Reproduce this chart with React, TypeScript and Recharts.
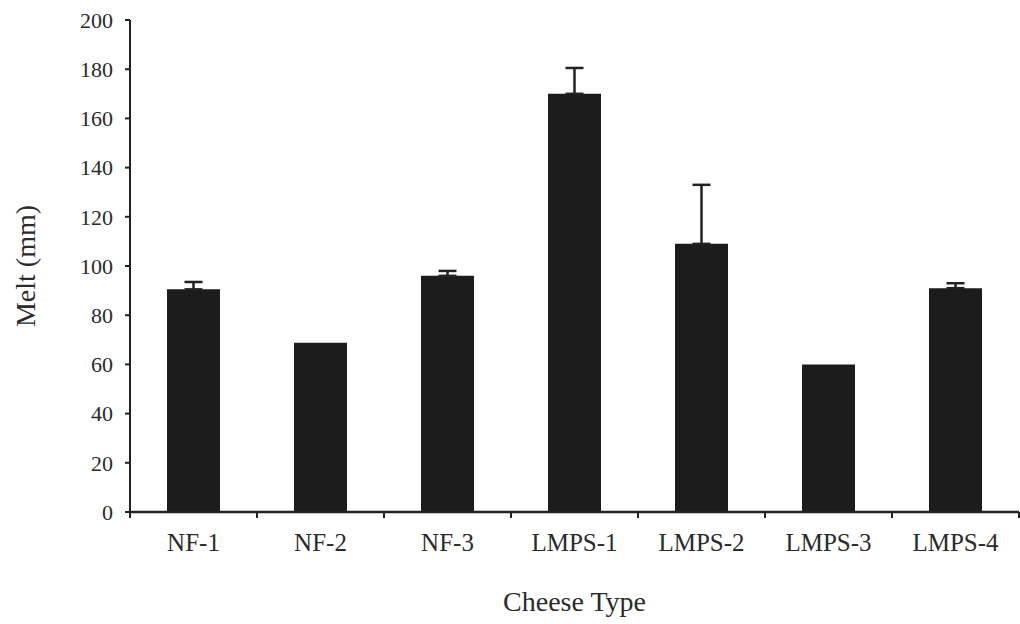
import { Bar, BarChart, ErrorBar, Label, XAxis, YAxis } from 'recharts';

const cheeseTypes = ['NF-1', 'NF-2', 'NF-3', 'LMPS-1', 'LMPS-2', 'LMPS-3', 'LMPS-4'];
const meltValues = [90.5, 68.8, 96, 170, 109, 60, 91];
// upper error only; 0 = no visible bar
const meltErrors = [3, 0, 2, 10.5, 24, 0, 2];
const yTicks = [0, 20, 40, 60, 80, 100, 120, 140, 160, 180, 200];

const data = cheeseTypes.map((name, i) => ({
  name,
  melt: meltValues[i],
  err: meltErrors[i] > 0 ? [0, meltErrors[i]] : undefined,
}));

const W = 1020;
const H = 624;
const margin = { top: 20, right: 1, left: 0, bottom: 0 };
const yAxisWidth = 130;
const xAxisHeight = 112;
const band = (W - margin.left - margin.right - yAxisWidth) / cheeseTypes.length;

const font = 'Liberation Serif, Times New Roman, serif';
const ink = '#222';
const textInk = '#2b2b2b';

function CategoryTick(props: any) {
  const { x, y, payload, index } = props;
  const last = index === cheeseTypes.length - 1;
  return (
    <g>
      <line x1={x - band / 2} y1={y} x2={x - band / 2} y2={y + 6} stroke={ink} strokeWidth={2} />
      {last && <line x1={x + band / 2} y1={y} x2={x + band / 2} y2={y + 6} stroke={ink} strokeWidth={2} />}
      <text x={x} y={y} dy={39} textAnchor="middle" style={{ fontFamily: font, fontSize: 25, fill: textInk }}>
        {payload.value}
      </text>
    </g>
  );
}

export default function App() {
  return (
    <div
      style={{
        position: 'absolute',
        left: 0,
        top: 0,
        width: W,
        height: H,
        background: '#fff',
        fontFamily: font,
      }}
    >
      <BarChart width={W} height={H} data={data} margin={margin} barSize={53} style={{ fontFamily: font }}>
        <XAxis
          dataKey="name"
          height={xAxisHeight}
          stroke={ink}
          strokeWidth={2.5}
          tickLine={false}
          tickSize={0}
          tickMargin={0}
          tick={<CategoryTick />}
          interval={0}
        >
          <Label
            value="Cheese Type"
            position="insideBottom"
            offset={13}
            style={{ fontFamily: font, fontSize: 28, fill: textInk }}
          />
        </XAxis>
        <YAxis
          width={yAxisWidth}
          domain={[0, 200]}
          ticks={yTicks}
          interval={0}
          stroke={ink}
          strokeWidth={2}
          tickSize={5}
          tickMargin={12}
          tick={{ style: { fontFamily: font }, fontSize: 22, fill: textInk }}
        >
          <Label
            content={({ viewBox }: any) => {
              const cx = viewBox.x + 25;
              const cy = viewBox.y + viewBox.height / 2;
              return (
                <text
                  x={cx}
                  y={cy}
                  transform={`rotate(-90, ${cx}, ${cy})`}
                  textAnchor="middle"
                  dominantBaseline="central"
                  style={{ fontFamily: font, fontSize: 28, fill: textInk }}
                >
                  Melt (mm)
                </text>
              );
            }}
          />
        </YAxis>
        <Bar dataKey="melt" fill="#1c1c1c" isAnimationActive={false}>
          <ErrorBar dataKey="err" direction="y" width={9} stroke={ink} strokeWidth={2.5} />
        </Bar>
      </BarChart>
    </div>
  );
}
